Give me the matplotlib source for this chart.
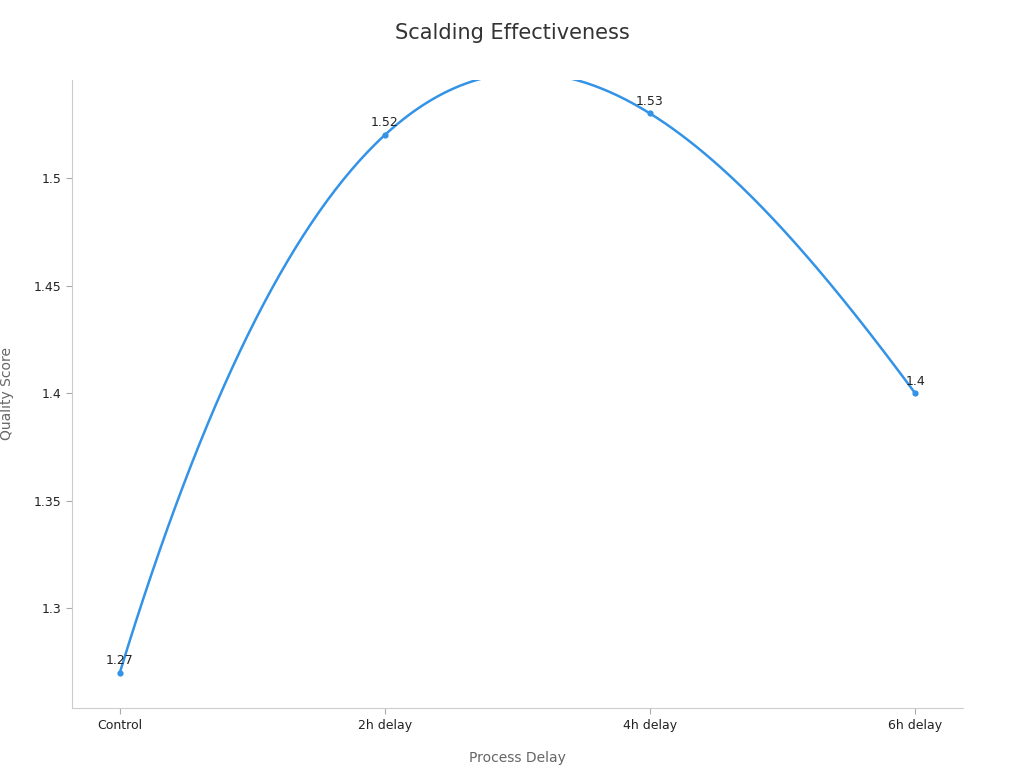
import numpy as np
import matplotlib
matplotlib.use("Agg")
import matplotlib.pyplot as plt

categories = ["Control", "2h delay", "4h delay", "6h delay"]
scores = [1.27, 1.52, 1.53, 1.40]
labels = ["1.27", "1.52", "1.53", "1.4"]

color = "#3393e6"

fig = plt.figure(figsize=(10.24, 7.68), dpi=100)
ax = fig.add_axes([0.0703, 0.078, 0.870, 0.818])

x = np.arange(len(categories))
# smooth curve through the points (cubic interpolation)
coef = np.polyfit(x, scores, 3)
xs = np.linspace(0, len(categories) - 1, 300)
ax.plot(xs, np.polyval(coef, xs), color=color, lw=1.8)
ax.scatter(x, scores, color=color, s=12, zorder=3)
for xi, yi, lab in zip(x, scores, labels):
    ax.annotate(lab, (xi, yi), xytext=(0, 4), textcoords="offset points",
                ha="center", va="bottom", fontsize=9, color="#222222")

ax.set_xlim(-0.18, 3.18)
ax.set_ylim(1.2537, 1.5456)
ax.set_xticks(x)
ax.set_xticklabels(categories)
ax.set_yticks([1.3, 1.35, 1.4, 1.45, 1.5])
ax.set_yticklabels(["1.3", "1.35", "1.4", "1.45", "1.5"])
ax.tick_params(labelsize=9, colors="#222222", length=4)
ax.tick_params(color="#aaaaaa")
for s in ["top", "right"]:
    ax.spines[s].set_visible(False)
for s in ["left", "bottom"]:
    ax.spines[s].set_color("#cccccc")

ax.set_xlabel("Process Delay", fontsize=10, color="#666666", labelpad=14)
ax.set_ylabel("Quality Score", fontsize=10, color="#666666", labelpad=14)
fig.suptitle("Scalding Effectiveness", fontsize=15, color="#333333", y=0.97)

fig.savefig("out.png", dpi=100)
